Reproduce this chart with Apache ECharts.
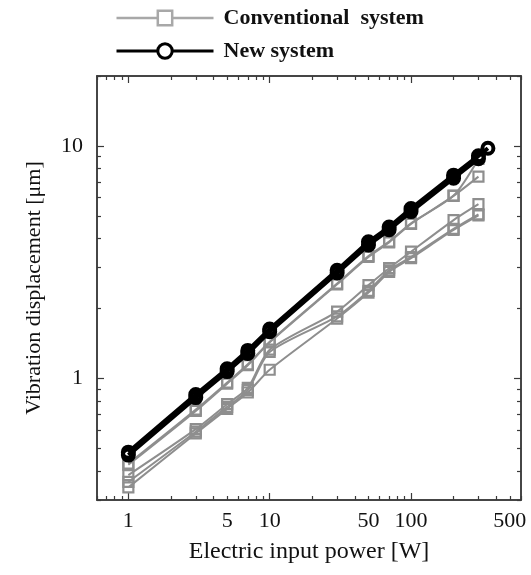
<!DOCTYPE html>
<html>
<head>
<meta charset="utf-8">
<script src="https://cdn.jsdelivr.net/npm/echarts@6/dist/echarts.min.js"></script>
<style>
html, body { margin: 0; padding: 0; background: #fff; }
#chart { width: 531px; height: 575px; }
</style>
</head>
<body>
<div id="chart"></div>
<script>
// electric input power [W]
var power = [1, 3, 5, 7, 10, 30, 50, 70, 100, 200, 300];
var powerNew = [1, 3, 5, 7, 10, 30, 50, 70, 100, 200, 300, 350];

// vibration displacement [um], conventional system (several runs)
var convA1 = [0.43, 0.735, 0.96, 1.15, 1.44, 2.56, 3.36, 3.88, 4.65, 6.12, 8.8];
var convA2 = [0.425, 0.725, 0.95, 1.14, 1.43, 2.54, 3.33, 3.85, 4.62, 6.10, 7.38];
var convB = [0.384, 0.605, 0.775, 0.91, 1.33, 1.94, 2.52, 2.98, 3.51, 4.80, 5.62];
var convC = [0.359, 0.59, 0.755, 0.89, 1.30, 1.85, 2.38, 2.92, 3.33, 4.40, 5.08];
var convD = [0.34, 0.58, 0.74, 0.87, 1.09, 1.81, 2.34, 2.87, 3.29, 4.35, 5.03];

// new system (two runs, almost on top of each other)
var new1 = [0.482, 0.853, 1.10, 1.32, 1.63, 2.92, 3.87, 4.48, 5.38, 7.49, 9.07, 9.78];
var new2 = [0.468, 0.827, 1.07, 1.28, 1.59, 2.84, 3.75, 4.36, 5.22, 7.27, 8.81];

// ticks
var xLabels = [1, 5, 10, 50, 100, 500];
var xMajor = [1, 10, 100];
var xMinor = [0.6, 0.7, 0.8, 0.9, 2, 3, 4, 5, 6, 7, 8, 9, 20, 30, 40, 50, 60, 70, 80, 90, 200, 300, 400, 500, 600];
var yLabels = [1, 10];
var yMajor = [1, 10];
var yMinor = [0.3, 0.4, 0.5, 0.6, 0.7, 0.8, 0.9, 2, 3, 4, 5, 6, 7, 8, 9, 20];

var GREY = '#8e8e8e';
var AXIS = '#3a3a3a';
var FONT = '"Liberation Serif", "DejaVu Serif", serif';

function pairs(xs, ys) {
    return ys.map(function (v, i) { return [xs[i], v]; });
}

function fmt(v) {
    return String(Math.round(v * 1000) / 1000);
}

function makeAxis(dim, position, ticks, len, labels) {
    var ax = {
        type: 'log',
        logBase: 10,
        position: position,
        min: dim === 'x' ? 0.6 : 0.3,
        max: dim === 'x' ? 600 : 20,
        axisLine: { show: true, onZero: false, lineStyle: { color: AXIS, width: 1.5 } },
        axisTick: { show: true, inside: true, length: len, customValues: ticks, lineStyle: { color: AXIS, width: 1.2 } },
        splitLine: { show: false },
        axisLabel: { show: false }
    };
    if (labels) {
        ax.axisLabel = {
            show: true,
            customValues: labels,
            formatter: fmt,
            margin: dim === 'x' ? 10 : 14,
            color: '#111',
            fontFamily: FONT,
            fontSize: 22
        };
    }
    return ax;
}

var xAxes = [
    makeAxis('x', 'bottom', xMajor, 7, xLabels),
    makeAxis('x', 'bottom', xMinor, 4),
    makeAxis('x', 'top', xMajor, 7),
    makeAxis('x', 'top', xMinor, 4)
];
xAxes[0].name = 'Electric input power [W]';
xAxes[0].nameLocation = 'middle';
xAxes[0].nameGap = 40;
xAxes[0].nameTextStyle = { fontFamily: FONT, fontSize: 24, color: '#111' };

var yAxes = [
    makeAxis('y', 'left', yMajor, 7, yLabels),
    makeAxis('y', 'left', yMinor, 4),
    makeAxis('y', 'right', yMajor, 7),
    makeAxis('y', 'right', yMinor, 4)
];
yAxes[0].name = 'Vibration displacement [\u03bcm]';
yAxes[0].nameLocation = 'middle';
yAxes[0].nameGap = 52;
yAxes[0].nameTextStyle = { fontFamily: FONT, fontSize: 22, color: '#111' };

function convSeries(vals) {
    return {
        name: 'Conventional  system',
        type: 'line',
        data: pairs(power, vals),
        smooth: 0.25,
        symbol: 'rect',
        symbolSize: 10,
        lineStyle: { color: GREY, width: 2 },
        itemStyle: { color: 'transparent', borderColor: GREY, borderWidth: 2.2 },
        emphasis: { disabled: true },
        z: 2
    };
}

function newSeries(vals) {
    return {
        name: 'New system',
        type: 'line',
        data: pairs(powerNew, vals),
        symbol: 'circle',
        symbolSize: 11,
        lineStyle: { color: '#000', width: 4 },
        itemStyle: { color: 'transparent', borderColor: '#000', borderWidth: 4 },
        emphasis: { disabled: true },
        z: 3
    };
}

var chart = echarts.init(document.getElementById('chart'), null, { renderer: 'canvas' });
chart.setOption({
    animation: false,
    backgroundColor: '#fff',
    grid: { left: 97, right: 10, top: 76, bottom: 75, containLabel: false, outerBoundsMode: 'none' },
    legend: {
        orient: 'vertical',
        left: 115,
        top: 7,
        padding: 0,
        itemWidth: 97,
        itemHeight: 18,
        itemGap: 11,
        textStyle: { fontFamily: FONT, fontSize: 22, fontWeight: 'bold', color: '#111', padding: [0, 0, 0, 5] },
        data: [
            {
                name: 'Conventional  system',
                itemStyle: { color: '#fff', borderColor: '#a8a8a8', borderWidth: 2.5 },
                lineStyle: { color: '#a8a8a8', width: 2.5 }
            },
            {
                name: 'New system',
                itemStyle: { color: '#fff', borderColor: '#000', borderWidth: 3 },
                lineStyle: { color: '#000', width: 3 }
            }
        ]
    },
    xAxis: xAxes,
    yAxis: yAxes,
    series: [
        convSeries(convD),
        convSeries(convC),
        convSeries(convB),
        convSeries(convA2),
        convSeries(convA1),
        newSeries(new2),
        newSeries(new1)
    ]
});
</script>
</body>
</html>
